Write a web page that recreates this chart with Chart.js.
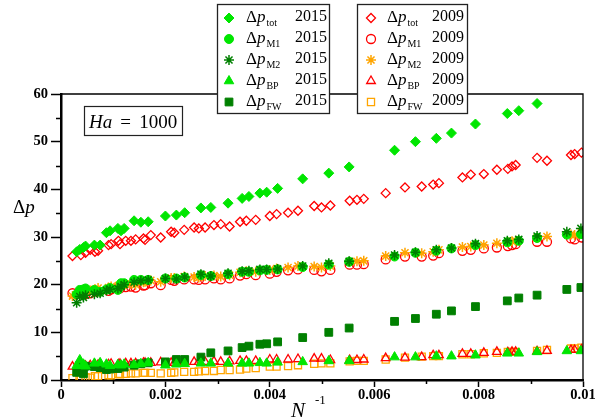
<!DOCTYPE html>
<html>
<head>
<meta charset="utf-8">
<script src="https://cdn.jsdelivr.net/npm/chart.js@4.4.1/dist/chart.umd.min.js"></script>
<style>
  html, body { margin: 0; padding: 0; background: #fff; }
  #chart { display: block; }
</style>
</head>
<body>
<canvas id="chart" width="608" height="420"></canvas>
<script>
// N^-1 values (2015 runs and 2009 runs)
var x2015 = [0.00030, 0.00036, 0.00043, 0.00047, 0.00064, 0.00075, 0.00087, 0.00094, 0.00109, 0.00115,
  0.00121, 0.00140, 0.00153, 0.00167, 0.00200, 0.00221, 0.00237, 0.00268, 0.00287, 0.00320,
  0.00347, 0.00360, 0.00381, 0.00394, 0.00415, 0.00463, 0.00513, 0.00552, 0.00639, 0.00679,
  0.00719, 0.00748, 0.00794, 0.00855, 0.00877, 0.00912, 0.00969, 0.00996];
var tot2015 = [26.9, 27.4, 27.8, 28.1, 28.3, 28.3, 30.9, 31.3, 31.8, 31.3,
  31.8, 33.4, 33.1, 33.2, 34.4, 34.6, 35.1, 36.1, 36.2, 37.1,
  38.1, 38.5, 39.2, 39.4, 40.2, 42.2, 43.4, 44.7, 48.2, 50.0,
  50.7, 51.8, 53.7, 55.9, 56.5, 58.0, null, null];
var m1_2015 = [18.0, 18.9, 19.0, 19.2, 18.9, 18.5, 19.0, 19.3, 18.9, 20.3,
  20.3, 21.0, 21.0, 21.0, 21.3, 21.3, 21.5, 22.0, 21.8, 22.2,
  22.7, 22.7, 23.0, 23.1, 23.2, 23.7, 24.2, 24.8, 25.9, 26.7,
  27.1, 27.6, 28.3, 28.9, 29.2, 29.8, 30.5, 30.6];
var m2_2015 = [16.2, 17.5, 17.3, 17.8, 18.0, 18.2, 18.8, 19.0, 19.2, 19.6,
  20.0, 20.5, 20.8, 21.0, 21.3, 21.2, 21.6, 22.2, 21.8, 22.4,
  22.8, 22.9, 23.2, 23.2, 23.3, 23.9, 24.5, 24.9, 26.2, 26.8,
  27.3, 27.7, 28.6, 29.2, 29.5, 30.2, 31.1, 31.8];
var bp2015 = [3.0, 4.2, 3.3, 2.9, 3.5, 3.6, 3.3, 3.0, 3.2, 3.1,
  3.3, 3.2, 3.4, 3.6, 3.1, 3.3, 3.4, 3.5, 3.5, 3.5,
  3.5, 3.5, 3.6, 3.5, 3.7, 3.8, 4.0, 4.0, 4.8, 4.8,
  5.0, 5.0, 5.2, 5.6, 5.6, 5.9, 6.1, 6.1];
var fw2015 = [1.6, 2.8, 1.3, 2.9, 2.8, 2.6, 2.2, 2.3, 2.4, 2.8,
  2.7, 3.1, 3.4, 3.6, 3.8, 4.3, 4.3, 4.8, 5.7, 6.1,
  6.8, 7.1, 7.5, 7.6, 8.0, 8.9, 10.0, 10.9, 12.3, 12.9,
  13.8, 14.5, 15.4, 16.6, 17.2, 17.8, 19.0, 19.4];

var x2009 = [0.00022, 0.00038, 0.00047, 0.00056, 0.00065, 0.00071, 0.00091, 0.00096, 0.00110, 0.00113,
  0.00124, 0.00134, 0.00143, 0.00158, 0.00161, 0.00172, 0.00191, 0.00211, 0.00217, 0.00236,
  0.00255, 0.00264, 0.00276, 0.00293, 0.00306, 0.00323, 0.00343, 0.00355, 0.00373, 0.00400,
  0.00413, 0.00435, 0.00454, 0.00485, 0.00499, 0.00516, 0.00553, 0.00567, 0.00580, 0.00622,
  0.00659, 0.00691, 0.00713, 0.00724, 0.00769, 0.00785, 0.00810, 0.00835, 0.00856, 0.00864,
  0.00871, 0.00912, 0.00931, 0.00977, 0.00984, 0.00997];
var tot2009 = [26.0, 26.2, 26.7, 27.3, 26.9, 27.1, 28.3, 28.5, 29.2, 28.5,
  29.2, 29.2, 29.5, 29.7, 29.4, 30.4, 29.9, 31.1, 30.9, 31.5,
  32.0, 31.8, 32.0, 32.5, 32.7, 32.2, 33.2, 33.4, 33.6, 34.4,
  34.8, 35.1, 35.5, 36.5, 36.2, 36.6, 37.6, 37.8, 38.0, 39.2,
  40.4, 40.6, 41.0, 41.3, 42.5, 43.1, 43.2, 44.1, 44.3, 44.8,
  45.1, 46.6, 46.0, 47.2, 47.4, 47.7];
var m1_2009 = [18.2, 18.5, 18.0, 18.2, 18.6, 18.6, 18.7, 19.0, 19.4, 19.2,
  19.5, 19.6, 19.4, 19.8, 19.9, 20.3, 19.9, 21.0, 20.8, 21.1,
  21.1, 21.0, 21.1, 21.3, 21.1, 21.3, 21.9, 22.2, 22.0, 22.3,
  22.7, 23.0, 23.2, 23.1, 22.8, 23.1, 24.2, 24.2, 24.3, 25.3,
  25.9, 25.9, 26.1, 26.6, 27.1, 27.3, 27.6, 27.8, 28.1, 28.3,
  28.5, 29.0, 29.0, 29.7, 29.5, 29.9];
var m2_2009 = [17.6, 18.2, 18.6, 18.8, 19.0, 19.3, 19.4, 19.6, 19.8, 19.9,
  20.1, 20.2, 20.0, 20.5, 20.6, 20.9, 20.6, 21.4, 21.4, 21.7,
  21.6, 21.5, 21.8, 21.9, 21.7, 22.0, 22.6, 22.8, 22.7, 23.1,
  23.4, 23.6, 23.9, 23.8, 23.6, 23.9, 24.8, 24.9, 25.0, 26.0,
  26.7, 26.6, 26.9, 27.3, 27.9, 28.0, 28.3, 28.7, 28.9, 29.1,
  29.2, 29.8, 30.1, 30.5, 30.4, 31.0];
var bp2009 = [2.8, 3.0, 3.0, 3.1, 3.2, 3.2, 3.3, 3.4, 3.3, 3.4,
  3.5, 3.5, 3.5, 3.6, 3.6, 3.6, 3.7, 3.6, 3.6, 3.8,
  3.8, 3.8, 3.8, 3.9, 3.8, 3.9, 4.0, 4.0, 4.0, 4.3,
  4.3, 4.3, 4.4, 4.5, 4.5, 4.2, 4.2, 4.2, 4.3, 4.6,
  4.7, 4.8, 5.2, 5.2, 5.5, 5.5, 5.7, 5.9, 5.8, 5.9,
  5.9, 6.0, 6.1, 6.3, 6.3, 6.4];
var fw2009 = [0.4, 0.2, 0.6, 0.5, 0.8, 0.8, 1.0, 1.0, 1.3, 1.2,
  1.3, 1.4, 1.4, 1.5, 1.5, 1.5, 1.4, 1.5, 1.6, 1.7,
  1.7, 1.8, 1.9, 1.9, 2.1, 2.1, 2.2, 2.4, 2.5, 2.8,
  2.8, 2.9, 3.1, 3.4, 3.5, 3.5, 3.9, 4.0, 4.0, 4.3,
  4.7, 4.9, 5.0, 5.0, 5.4, 5.4, 5.6, 5.7, 5.9, 5.9,
  5.9, 6.1, 6.3, 6.6, 6.6, 6.8];

var xTicks = [0, 0.002, 0.004, 0.006, 0.008, 0.01];
var yTicks = [0, 10, 20, 30, 40, 50, 60];

var GREEN = "#00e600";
var DKGREEN = "#008000";
var RED = "#ff0000";
var ORANGE = "#ffa500";
var SERIF = "'Liberation Serif', 'DejaVu Serif', serif";

function pts(xs, ys) {
  var out = [];
  for (var i = 0; i < xs.length; i++) {
    if (ys[i] !== null) out.push({ x: xs[i], y: ys[i] });
  }
  return out;
}

// legend rows: [style, radius, fill, stroke, width, subscript, year]
var legend1 = [
  ["rectRot", 5, GREEN, GREEN, 1, "tot", "2015"],
  ["circle", 4.5, GREEN, GREEN, 1, "M1", "2015"],
  ["star", 5, DKGREEN, DKGREEN, 1.5, "M2", "2015"],
  ["triangle", 5.5, GREEN, GREEN, 1, "BP", "2015"],
  ["rect", 5.5, DKGREEN, DKGREEN, 1, "FW", "2015"]
];
var legend2 = [
  ["rectRot", 4.5, "rgba(0,0,0,0)", RED, 1.3, "tot", "2009"],
  ["circle", 4.5, "rgba(0,0,0,0)", RED, 1.3, "M1", "2009"],
  ["star", 5, ORANGE, ORANGE, 1.5, "M2", "2009"],
  ["triangle", 5, "rgba(0,0,0,0)", RED, 1.3, "BP", "2009"],
  ["rect", 5, "rgba(0,0,0,0)", ORANGE, 1.3, "FW", "2009"]
];

function ds(label, data, row) {
  return {
    label: label,
    data: data,
    pointStyle: row[0],
    pointRadius: row[1],
    backgroundColor: row[2],
    borderColor: row[3],
    borderWidth: row[4],
    showLine: false
  };
}

var datasets = [
  ds("tot 2015", pts(x2015, tot2015), legend1[0]),
  ds("M2 2015", pts(x2015, m2_2015), legend1[2]),
  ds("M1 2015", pts(x2015, m1_2015), legend1[1]),
  ds("BP 2015", pts(x2015, bp2015), legend1[3]),
  ds("FW 2015", pts(x2015, fw2015), legend1[4]),
  ds("tot 2009", pts(x2009, tot2009), legend2[0]),
  ds("M2 2009", pts(x2009, m2_2009), legend2[2]),
  ds("M1 2009", pts(x2009, m1_2009), legend2[1]),
  ds("BP 2009", pts(x2009, bp2009), legend2[3]),
  ds("FW 2009", pts(x2009, fw2009), legend2[4])
];

function drawLegendBox(ctx, left, top, right, bottom, rows, markX, textX, yearX) {
  ctx.save();
  ctx.fillStyle = "#fff";
  ctx.fillRect(left, top, right - left, bottom - top);
  ctx.strokeStyle = "#222";
  ctx.lineWidth = 1.3;
  ctx.strokeRect(left, top, right - left, bottom - top);
  for (var i = 0; i < rows.length; i++) {
    var r = rows[i];
    var y = 18 + i * 21;
    ctx.fillStyle = r[2];
    ctx.strokeStyle = r[3];
    ctx.lineWidth = r[4];
    Chart.helpers.drawPoint(ctx, { pointStyle: r[0], radius: r[1], rotation: 0, borderWidth: r[4] }, markX, y);
    ctx.fillStyle = "#000";
    ctx.textBaseline = "alphabetic";
    ctx.textAlign = "left";
    ctx.font = "17px " + SERIF;
    ctx.fillText("\u0394", textX, y + 4);
    var w = ctx.measureText("\u0394").width;
    ctx.font = "italic 17px " + SERIF;
    ctx.fillText("p", textX + w, y + 4);
    var w2 = ctx.measureText("p").width;
    ctx.font = "10px " + SERIF;
    ctx.fillText(r[5], textX + w + w2 + 1, y + 8);
    ctx.font = "16px " + SERIF;
    ctx.textAlign = "right";
    ctx.fillText(r[6], yearX, y + 3);
  }
  ctx.restore();
}

var decor = {
  id: "decor",
  afterDatasetsDraw: function(chart) {
    var ctx = chart.ctx;
    var a = chart.chartArea;
    var xs = chart.scales.x;
    var ys = chart.scales.y;
    ctx.save();
    // top and right frame
    ctx.strokeStyle = "#000";
    ctx.lineWidth = 1.3;
    ctx.beginPath();
    ctx.moveTo(a.left, a.top);
    ctx.lineTo(a.right, a.top);
    ctx.lineTo(a.right, a.bottom);
    ctx.stroke();
    // minor ticks
    ctx.lineWidth = 1.5;
    ctx.beginPath();
    for (var v = 5; v < 60; v += 10) {
      var py = Math.round(ys.getPixelForValue(v)) + 0.5;
      ctx.moveTo(a.left, py);
      ctx.lineTo(a.left - 5, py);
    }
    for (var k = 1; k < 10; k += 2) {
      var px = Math.round(xs.getPixelForValue(k * 0.001)) + 0.5;
      ctx.moveTo(px, a.bottom);
      ctx.lineTo(px, a.bottom + 4);
    }
    ctx.stroke();

    // Ha box
    ctx.fillStyle = "#fff";
    ctx.fillRect(84, 106, 99, 30);
    ctx.lineWidth = 1.2;
    ctx.strokeStyle = "#222";
    ctx.strokeRect(84.5, 106.5, 98, 29);
    ctx.fillStyle = "#000";
    ctx.textBaseline = "alphabetic";
    ctx.textAlign = "left";
    ctx.font = "italic 19px " + SERIF;
    ctx.fillText("Ha", 89, 128);
    var hw = ctx.measureText("Ha").width;
    ctx.font = "19px " + SERIF;
    ctx.fillText("=", 89 + hw + 8, 128);
    ctx.fillText("1000", 89 + hw + 27, 128);

    // axis titles
    ctx.font = "19px " + SERIF;
    ctx.fillText("\u0394", 13, 213);
    var dw = ctx.measureText("\u0394").width;
    ctx.font = "italic 19px " + SERIF;
    ctx.fillText("p", 13 + dw, 213);

    ctx.font = "italic 21px " + SERIF;
    ctx.fillText("N", 291, 417);
    ctx.font = "13px " + SERIF;
    ctx.fillText("-1", 315, 404);

    drawLegendBox(ctx, 217.5, 4.5, 329.5, 113.5, legend1, 229, 246, 327);
    drawLegendBox(ctx, 357.5, 4.5, 467.5, 113.5, legend2, 371, 387, 464);
    ctx.restore();
  }
};

var tickFont = { family: SERIF, size: 14.5, weight: "bold" };

new Chart(document.getElementById("chart"), {
  type: "scatter",
  data: { datasets: datasets },
  options: {
    responsive: false,
    animation: false,
    devicePixelRatio: 1,
    layout: { padding: { top: 94, right: 25, left: 0, bottom: 0 } },
    plugins: {
      legend: { display: false },
      tooltip: { enabled: false }
    },
    scales: {
      x: {
        type: "linear",
        min: 0,
        max: 0.01,
        afterBuildTicks: function(scale) {
          scale.ticks = xTicks.map(function(v) { return { value: v }; });
        },
        afterFit: function(scale) { scale.height = 40; },
        ticks: {
          autoSkip: false,
          maxRotation: 0,
          color: "#000",
          font: tickFont,
          padding: 0,
          callback: function(v) { return String(Number(v.toFixed(3))); }
        },
        grid: { drawOnChartArea: false, drawTicks: true, tickLength: 7, tickWidth: 1.5, tickColor: "#000" },
        border: { display: true, color: "#000", width: 2.5 }
      },
      y: {
        type: "linear",
        min: 0,
        max: 60,
        afterBuildTicks: function(scale) {
          scale.ticks = yTicks.map(function(v) { return { value: v }; });
        },
        afterFit: function(scale) { scale.width = 61; },
        ticks: {
          color: "#000",
          font: tickFont,
          padding: 3
        },
        grid: { drawOnChartArea: false, drawTicks: true, tickLength: 10, tickWidth: 1.5, tickColor: "#000" },
        border: { display: true, color: "#000", width: 2.5 }
      }
    }
  },
  plugins: [decor]
});
</script>
</body>
</html>
